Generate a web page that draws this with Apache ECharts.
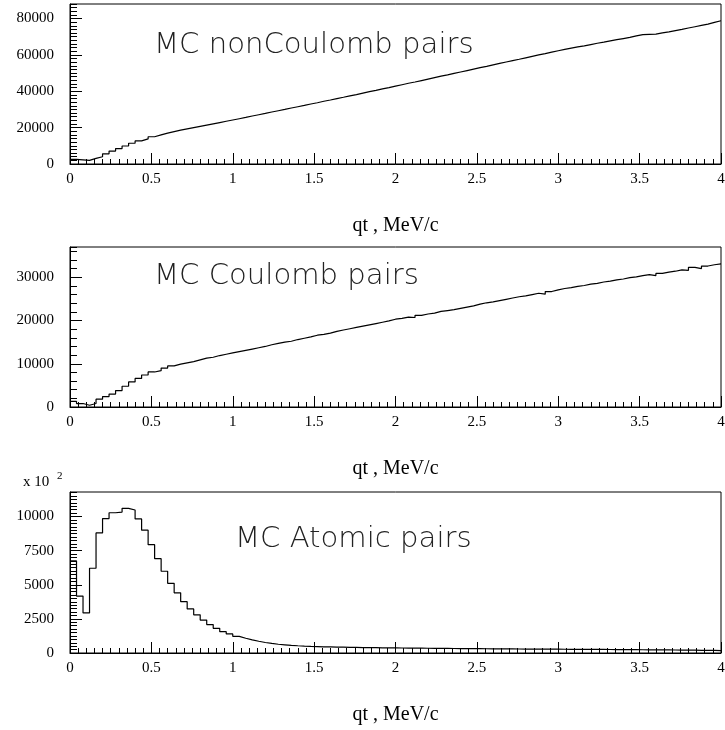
<!DOCTYPE html>
<html><head><meta charset="utf-8">
<script src="https://cdn.jsdelivr.net/npm/echarts@6/dist/echarts.min.js"></script>
<style>html,body{margin:0;padding:0;background:#fff}#c{width:725px;height:730px}</style>
</head><body><div id="c"></div>
<script>
const binWidth = 0.04;
const nonCoulombCounts = [2500,2300,2000,3100,4000,5600,7100,8500,9900,11400,
12700,13800,15000,16000,17000,17800,18600,19300,20000,20700,
21400,22100,22800,23500,24200,24900,25600,26400,27100,27800,
28600,29300,30000,30800,31500,32200,33000,33700,34500,35200,
36000,36700,37500,38200,39000,39800,40500,41300,42000,42800,
43600,44400,45100,45900,46700,47500,48300,49000,49800,50600,
51400,52200,53000,53700,54500,55300,56100,56900,57600,58400,
59200,60000,60700,61500,62300,63000,63700,64400,65000,65700,
66400,67000,67700,68400,69000,69600,70500,71200,71300,71400,
72100,72700,73400,74000,74800,75500,76200,76900,77900,78800];
const coulombCounts = [1300,800,400,800,1800,2400,3000,3800,4800,5800,
6600,7400,8100,8400,9000,9500,9900,10200,10500,10900,
11300,11500,11900,12200,12500,12800,13100,13400,13700,14000,
14400,14700,15000,15200,15600,15900,16200,16600,16800,17100,
17500,17800,18100,18400,18700,19000,19300,19600,19900,20300,
20500,20800,20700,21200,21500,21700,22100,22300,22500,22800,
23100,23400,23800,24100,24300,24600,24900,25200,25500,25700,
26000,26300,26100,26700,27100,27400,27600,27900,28100,28400,
28600,28900,29100,29400,29600,29900,30100,30400,30600,30400,
30900,31200,31400,31700,31600,32300,32000,32600,32900,33100];
const atomicCounts = [6750,4170,2940,6210,8800,9850,10280,10330,10600,10480,
9830,9000,7940,6910,5990,5110,4410,3760,3230,2800,
2410,2080,1810,1560,1400,1220,1080,960,860,770,
700,640,600,560,530,505,485,470,455,445,
435,425,415,408,400,395,388,382,378,372,
368,362,357,352,348,343,340,335,330,326,
322,318,314,311,307,304,300,297,294,291,
288,286,283,281,278,276,273,270,268,265,
262,259,256,253,250,247,244,240,236,232,
228,224,219,214,209,204,199,194,186,178];
const panelTitles = ['MC nonCoulomb pairs', 'MC Coulomb pairs', 'MC Atomic pairs'];
const xAxisTitle = 'qt , MeV/c';
const xMin = 0, xMax = 4, xMajor = 0.5;
const yMaxes = [88000, 37000, 11800];
const yMajors = [20000, 10000, 2500];
const yMinors = [2000, 2000, 250];
const scaleNote = ['x 10', '2'];

const seriesCounts = [nonCoulombCounts, coulombCounts, atomicCounts];
const grids = [
  {left: 70, top: 4, width: 651, height: 160},
  {left: 70, top: 247, width: 651, height: 160},
  {left: 70, top: 492, width: 651, height: 161}
];
const titlePos = [[154, 46], [154, 277], [235, 540]];
const serif = '"Liberation Serif", "Times New Roman", serif';

function stepData(counts) {
  const d = counts.map((v, i) => [+(i * binWidth).toFixed(2), v]);
  d.push([+(counts.length * binWidth).toFixed(2), counts[counts.length - 1]]);
  return d;
}

const xAxes = [], yAxes = [], series = [], graphics = [];
grids.forEach((g, k) => {
  xAxes.push({
    gridIndex: k, type: 'value', min: xMin, max: xMax, interval: xMajor,
    axisLine: {show: true, lineStyle: {color: '#000', width: 1}},
    axisTick: {show: true, inside: true, length: 11, lineStyle: {color: '#000'}},
    minorTick: {show: true, splitNumber: 10, length: 5, lineStyle: {color: '#000'}},
    splitLine: {show: false}, minorSplitLine: {show: false},
    axisLabel: {color: '#000', fontFamily: serif, fontSize: 15, margin: 8, formatter: v => String(v)},
    name: xAxisTitle, nameLocation: 'middle', nameGap: 52,
    nameTextStyle: {color: '#000', fontFamily: serif, fontSize: 20}
  });
  yAxes.push({
    gridIndex: k, type: 'value', min: 0, max: yMaxes[k], interval: yMajors[k], position: 'left',
    axisLine: {show: true, lineStyle: {color: '#000', width: 1}},
    axisTick: {show: true, inside: true, length: 12, lineStyle: {color: '#000'}},
    splitLine: {show: false},
    axisLabel: {color: '#000', fontFamily: serif, fontSize: 15, margin: 16, showMaxLabel: false, formatter: v => String(v)}
  });
  yAxes.push({
    gridIndex: k, type: 'value', min: 0, max: yMaxes[k], interval: yMinors[k], position: 'left',
    axisLine: {show: false},
    axisTick: {show: true, inside: true, length: 7, lineStyle: {color: '#000'}},
    splitLine: {show: false}, axisLabel: {show: false}
  });
  series.push({
    type: 'line', xAxisIndex: k, yAxisIndex: 2 * k, step: 'end',
    data: stepData(seriesCounts[k]), showSymbol: false, symbol: 'none',
    lineStyle: {color: '#000', width: 1.2}, animation: false, silent: true
  });
  graphics.push({
    type: 'text', x: titlePos[k][0], y: titlePos[k][1], scaleX: 1.04,
    style: {text: panelTitles[k], fill: '#222', font: '200 28px "DejaVu Sans"', verticalAlign: 'middle', align: 'left'}
  });
});
graphics.push({type: 'text', x: 23, y: 482, style: {text: scaleNote[0], fill: '#000', font: '15px ' + serif, verticalAlign: 'middle'}});
graphics.push({type: 'text', x: 57, y: 476, style: {text: scaleNote[1], fill: '#000', font: '11px ' + serif, verticalAlign: 'middle'}});

const chart = echarts.init(document.getElementById('c'), null, {renderer: 'canvas'});
chart.setOption({
  animation: false,
  backgroundColor: '#fff',
  grid: grids.map(g => Object.assign({show: true, borderColor: '#000', borderWidth: 1, backgroundColor: 'transparent', containLabel: false, outerBoundsMode: 'none'}, g)),
  xAxis: xAxes, yAxis: yAxes, series: series, graphic: graphics
});
</script></body></html>
